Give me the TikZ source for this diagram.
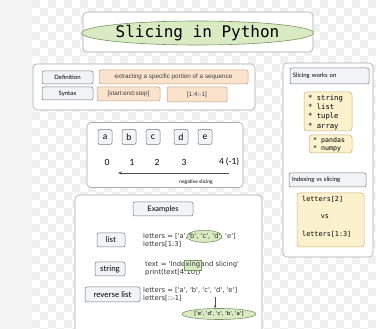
\documentclass[tikz,border=0pt]{standalone}
\usepackage{fontspec}
\setmainfont{Liberation Sans}
\setmonofont{DejaVu Sans Mono}
\newfontfamily\hand{Lato}
\newfontfamily\codefont{DejaVu Sans}
\usetikzlibrary{shapes.geometric,arrows.meta}
\definecolor{peachfill}{RGB}{250,226,204}
\definecolor{peachline}{RGB}{190,160,130}
\definecolor{greenfill}{RGB}{218,235,196}
\definecolor{greenline}{RGB}{120,150,100}
\definecolor{yelfill}{RGB}{251,241,204}
\definecolor{yelline}{RGB}{200,180,120}
\definecolor{grayfill}{RGB}{241,243,245}
\definecolor{grayline}{RGB}{120,120,120}
\definecolor{panelline}{RGB}{170,170,170}
\definecolor{checker}{RGB}{240,240,240}
\tikzset{
  panel/.style={draw=panelline, fill=white, rounded corners=4pt, line width=0.6pt, inner sep=0pt},
  graybox/.style={draw=grayline, fill=grayfill, rounded corners=2pt, line width=0.5pt, inner sep=0pt, font=\hand\fontsize{6}{7}\selectfont},
  peachbox/.style={draw=peachline, fill=peachfill, rounded corners=2pt, line width=0.5pt, inner sep=0pt, font=\fontsize{6.3}{7}\selectfont, text=black!75},
  yelbox/.style={draw=yelline, fill=yelfill, rounded corners=3pt, line width=0.5pt, inner sep=0pt},
  greenell/.style={draw=greenline, fill=greenfill, ellipse, line width=0.6pt, inner sep=0pt},
  letterbox/.style={graybox, minimum width=14pt, minimum height=15pt, font=\hand\fontsize{9}{10}\selectfont},
  num/.style={font=\hand\fontsize{8.5}{9}\selectfont, inner sep=0pt},
  code/.style={font=\codefont\fontsize{6.8}{7.5}\selectfont, inner sep=0pt, anchor=base west, text=black!80},
  mono/.style={font=\ttfamily\fontsize{7.2}{9.3}\selectfont, inner sep=0pt, align=left}
}
\begin{document}
\begin{tikzpicture}[x=1pt,y=-1pt]
\useasboundingbox (0,0) rectangle (376,329);
\clip (0,0) rectangle (376,329);
% background
\fill[white] (0,0) rectangle (376,329);
\fill[checker!80] (0,0) rectangle (32,329);
\foreach \i in {0,...,43} {
  \foreach \j in {0,...,41} {
    \pgfmathtruncatemacro{\parity}{mod(\i+\j,2)}
    \ifnum\parity=0
      \fill[checker] ({32+\i*8},{\j*8}) rectangle ++(8,8);
    \fi
  }
}
% title
\node[panel, minimum width=230pt, minimum height=40pt] (titlebox) at (198,32) {};
\node[greenell, minimum width=215pt, minimum height=24pt, font=\ttfamily\fontsize{16}{18}\selectfont] (title) at (197.5,33) {Slicing in Python};

% definition panel
\node[panel, minimum width=222pt, minimum height=46pt] (defpanel) at (144,87) {};
\node[graybox, minimum width=51pt, minimum height=13pt] (deflabel) at (67.5,77.5) {Definition};
\node[peachbox, minimum width=149pt, minimum height=14pt] (deftext) at (173.5,77) {extracting a specific portion of a sequence};
\node[graybox, minimum width=51pt, minimum height=13pt] (synlabel) at (67.5,93.5) {Syntax};
\node[peachbox, minimum width=63pt, minimum height=14pt] (syntax) at (128.5,94) {[start:end:step]};
\node[peachbox, minimum width=60pt, minimum height=15pt] (example) at (197,94.5) {[1:4:-1]};

% letters panel
\node[panel, minimum width=156pt, minimum height=65pt] (letpanel) at (165,155) {};
\node[letterbox] (la) at (105,137) {a};
\node[letterbox] (lb) at (129,137) {b};
\node[letterbox] (lc) at (153,137) {c};
\node[letterbox] (ld) at (181,137) {d};
\node[letterbox] (le) at (205,137) {e};
\node[num] (n0) at (107,162) {0};
\node[num] (n1) at (132,162) {1};
\node[num] (n2) at (157,162) {2};
\node[num] (n3) at (184,162) {3};
\node[num] (n4) at (229,162) {4 (-1)};
\coordinate (arrs) at (229,173);
\coordinate (arre) at (118,173);
\draw[-{Stealth[length=4pt,width=3pt]}, line width=0.5pt, black!70] (arrs) -- (arre);
\node[font=\hand\fontsize{5}{6}\selectfont, inner sep=0pt] (neg) at (196,182) {negative slicing};

% right panel
\node[panel, minimum width=90pt, minimum height=194pt] (rpanel) at (328,160) {};
\node[graybox, minimum width=79pt, minimum height=16pt, text width=73pt, align=left, inner xsep=3pt] (works) at (329.5,76) {Slicing works on};
\node[yelbox, minimum width=48pt, minimum height=39pt] (types) at (328,111.5) {};
\node[mono, anchor=north west] (typelist) at (308,94.5) {* string\\* list\\* tuple\\* array};
\node[yelbox, minimum width=43pt, minimum height=18pt] (libs) at (330.5,144) {};
\node[mono, anchor=north west, font=\ttfamily\fontsize{6.6}{8}\selectfont] (liblist) at (313,137) {* pandas\\* numpy};
\node[graybox, minimum width=77pt, minimum height=14pt, text width=71pt, align=left, inner xsep=3pt] (ivs) at (327.5,180) {Indexing vs slicing};
\node[yelbox, minimum width=67pt, minimum height=54pt] (cmp) at (330.5,220) {};
\node[mono, anchor=west, font=\ttfamily\fontsize{6.8}{8}\selectfont] (idx) at (302,199.5) {letters[2]};
\node[mono, font=\ttfamily\fontsize{6.8}{8}\selectfont] (vs) at (325,217) {vs};
\node[mono, anchor=west, font=\ttfamily\fontsize{6.8}{8}\selectfont] (slc) at (302,234) {letters[1:3]};

% examples panel
\node[panel, minimum width=187pt, minimum height=150pt] (expanel) at (168.5,270) {};
\node[graybox, minimum width=60pt, minimum height=14pt, font=\hand\fontsize{7.5}{8}\selectfont] (extitle) at (163,209) {Examples};
\node[graybox, minimum width=28pt, minimum height=14pt, font=\hand\fontsize{8}{9}\selectfont] (exlist) at (111,240) {list};
\node[graybox, minimum width=30pt, minimum height=14pt, font=\hand\fontsize{8}{9}\selectfont] (exstr) at (110,269) {string};
\node[graybox, minimum width=55pt, minimum height=15pt, font=\hand\fontsize{8}{9}\selectfont] (exrev) at (112.5,294.5) {reverse list};

% list example
\node[code] (l1a) at (143,239) {letters = ['a', };
\node[code, anchor=base west] (l1b) at (l1a.base east) {\phantom{'b', 'c', 'd'}};
\node[code, anchor=base west] (l1c) at (l1b.base east) {, 'e']};
\node[code] (l2) at (143,247) {letters[1:3]};
\path[draw=greenline, fill=greenfill, line width=0.6pt] ([yshift=0.5pt]l1b.center) ellipse (17.5pt and 6pt);
\node[code, anchor=base west] (l1bt) at (l1a.base east) {'b', 'c', 'd'};
% string example
\node[code] (s1a) at (145,267) {text = 'Inde};
\node[code, anchor=base west] (s1b) at (s1a.base east) {\phantom{xing}};
\node[code, anchor=base west] (s1c) at (s1b.base east) { and slicing'};
\node[code] (s2) at (145,275) {print(text[4:10])};
\path[draw=greenline, fill=greenfill, line width=0.5pt] ([xshift=-1pt,yshift=-1.5pt]s1b.south west) rectangle ([xshift=1pt,yshift=1.5pt]s1b.north east);
\node[code, anchor=base west] (s1bt) at (s1a.base east) {xing};
% reverse example
\node[code] (r1) at (143,293) {letters = ['a', 'b', 'c', 'd', 'e']};
\node[code] (r2) at (143,301) {letters[::-1]};
\coordinate (rarrs) at (215,297);
\node[greenell, minimum width=74pt, minimum height=11pt, inner xsep=0pt, font=\codefont\fontsize{5.4}{6}\selectfont] (rres) at (219,314) {['e', 'd', 'c', 'b', 'a']};
\draw[-{Stealth[length=3pt,width=2.5pt]}, line width=0.5pt, black!70] (rarrs) -- (rres.north -| rarrs);
\end{tikzpicture}
\end{document}
